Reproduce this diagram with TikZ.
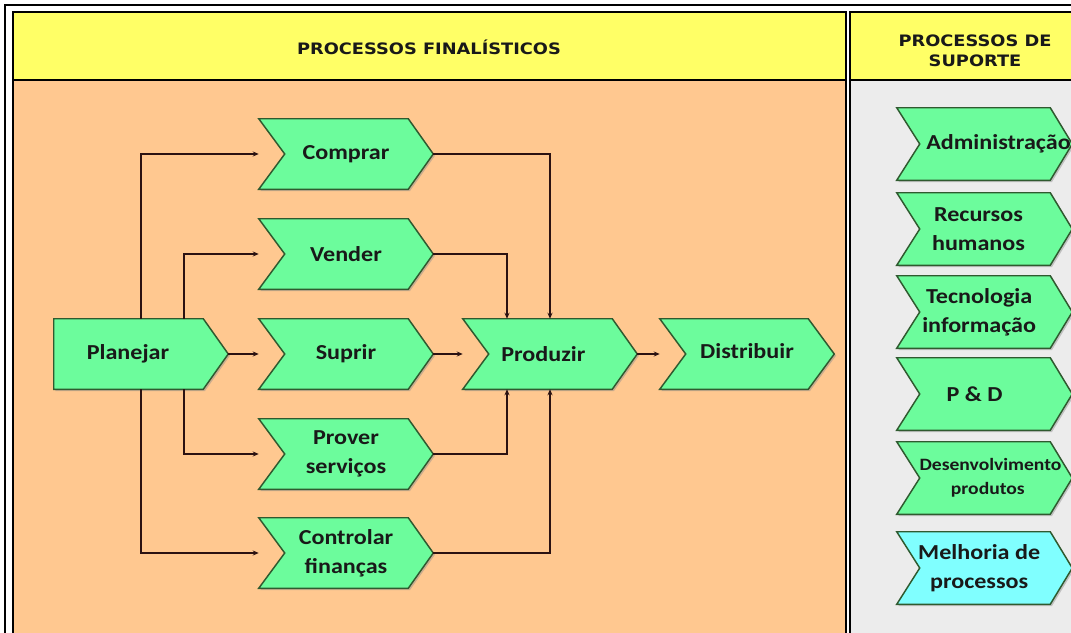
\documentclass[tikz,border=0pt]{standalone}
\usepackage{fontspec}
\setmainfont{Carlito}[FakeStretch=1.13]
\newfontfamily\headfont{DejaVu Sans}[FakeStretch=1.13]
\usetikzlibrary{arrows.meta,calc}
\pgfdeclarelayer{panel}
\pgfdeclarelayer{shape}
\pgfsetlayers{panel,shape,main}

\definecolor{headyellow}{HTML}{FFFF66}
\definecolor{corepeach}{HTML}{FFC890}
\definecolor{supgray}{HTML}{ECECEC}
\definecolor{chevgreen}{HTML}{6CFC9C}
\definecolor{chevcyan}{HTML}{80FFFF}
\definecolor{chevline}{HTML}{2F5A2F}
\definecolor{linkcol}{HTML}{2B1212}

\tikzset{
  chev/.style={rectangle, minimum width=130.5pt, minimum height=52.5pt,
    inner sep=0pt, align=center, text=black!90,
    font=\bfseries\fontsize{16}{21.5}\selectfont},
  side/.style={chev, minimum width=131.25pt, minimum height=54pt},
  small/.style={font=\bfseries\fontsize{13}{18}\selectfont},
  head/.style={align=center, text=black!90,
    font=\headfont\bfseries\fontsize{11.8}{15}\selectfont},
  link/.style={draw=linkcol, line width=0.9pt,
    -{Stealth[length=4.5pt,width=3.8pt]}},
  frame/.style={draw=black, line width=1.5pt}
}

\begin{document}
\begin{tikzpicture}[x=0.75pt,y=-0.75pt]
\useasboundingbox (0,0) rectangle (1071,632);
\clip (0,0) rectangle (1071,632);

% panels and frame
\begin{pgfonlayer}{panel}
  \fill[white] (0,0) rectangle (1071,632);
  \fill[headyellow] (13,12) rectangle (846,80);
  \fill[headyellow] (850,12) rectangle (1100,80);
  \fill[corepeach] (13,80) rectangle (846,700);
  \fill[supgray] (850,80) rectangle (1100,700);
  \draw[frame] (5,5) rectangle (1090,700);
  \draw[frame] (13,12) rectangle (846,700);
  \draw[frame] (850,12) rectangle (1100,700);
  \draw[frame] (13,80) -- (846,80);
  \draw[frame] (850,80) -- (1100,80);
\end{pgfonlayer}

% headers
\node[head] (hfin) at (429,47) {PROCESSOS FINALÍSTICOS};
\node[head] (hsup) at (975,51) {PROCESSOS DE\\SUPORTE};

% core processes
\node[chev] (planejar) at (141,354) {Planejar\hspace*{19.5pt}};
\node[chev] (comprar) at (346,154) {Comprar};
\node[chev] (vender) at (346,254) {Vender};
\node[chev] (suprir) at (346,354) {Suprir};
\node[chev] (prover) at (346,454) {Prover\\serviços};
\node[chev] (controlar) at (346,553) {Controlar\\finanças};
\node[chev] (produzir) at (550,354) {Produzir\hspace*{10pt}};
\node[chev] (distribuir) at (747,354) {\raisebox{4pt}{Distribuir}};

% support processes
\node[side] (admin) at (984.5,144) {\hspace*{21pt}Administração};
\node[side] (rh) at (984.5,229) {Recursos\hspace*{9pt}\\humanos\hspace*{9pt}};
\node[side] (ti) at (984.5,312) {Tecnologia\hspace*{8pt}\\informação\hspace*{8pt}};
\node[side] (pd) at (984.5,394) {P \& D\hspace*{15pt}};
\node[side, small] (desenv) at (984.5,478)
  {\hspace*{9pt}Desenvolvimento\\\hspace*{5pt}produtos};
\node[side] (melhoria) at (984.5,568) {Melhoria de\hspace*{8pt}\\processos\hspace*{8pt}};

% chevron outlines
\begin{pgfonlayer}{shape}
  \foreach \n/\c/\d/\k in {planejar/chevgreen/25/0, comprar/chevgreen/25/26,
      vender/chevgreen/25/26, suprir/chevgreen/25/26, prover/chevgreen/25/26,
      controlar/chevgreen/25/26, produzir/chevgreen/25/26,
      distribuir/chevgreen/26/26, admin/chevgreen/22/23, rh/chevgreen/22/23,
      ti/chevgreen/22/23, pd/chevgreen/22/23, desenv/chevgreen/22/23,
      melhoria/chevcyan/22/23}{
    \fill[black!45, opacity=0.45, transform canvas={shift={(1.3pt,-1.3pt)}}]
      (\n.north west) -- ($(\n.north east)+(-\d,0)$) -- (\n.east)
      -- ($(\n.south east)+(-\d,0)$) -- (\n.south west)
      -- ($(\n.west)+(\k,0)$) -- cycle;
    \filldraw[fill=\c, draw=chevline, line width=1.1pt, line join=miter]
      (\n.north west) -- ($(\n.north east)+(-\d,0)$) -- (\n.east)
      -- ($(\n.south east)+(-\d,0)$) -- (\n.south west)
      -- ($(\n.west)+(\k,0)$) -- cycle;
  }
\end{pgfonlayer}

% flows out of planning
\draw[link] (planejar.north) |- (comprar.west);
\draw[link] ($(planejar.north)+(43,0)$) |- (vender.west);
\draw[link] (planejar.east) -- (suprir.west);
\draw[link] ($(planejar.south)+(43,0)$) |- (prover.west);
\draw[link] (planejar.south) |- (controlar.west);

% flows into production
\draw[link] (comprar.east) -| (produzir.north);
\draw[link] (vender.east) -| ($(produzir.north)+(-43,0)$);
\draw[link] (suprir.east) -- (produzir.west);
\draw[link] (prover.east) -| ($(produzir.south)+(-43,0)$);
\draw[link] (controlar.east) -| (produzir.south);
\draw[link] (produzir.east) -- (distribuir.west);
\end{tikzpicture}
\end{document}
